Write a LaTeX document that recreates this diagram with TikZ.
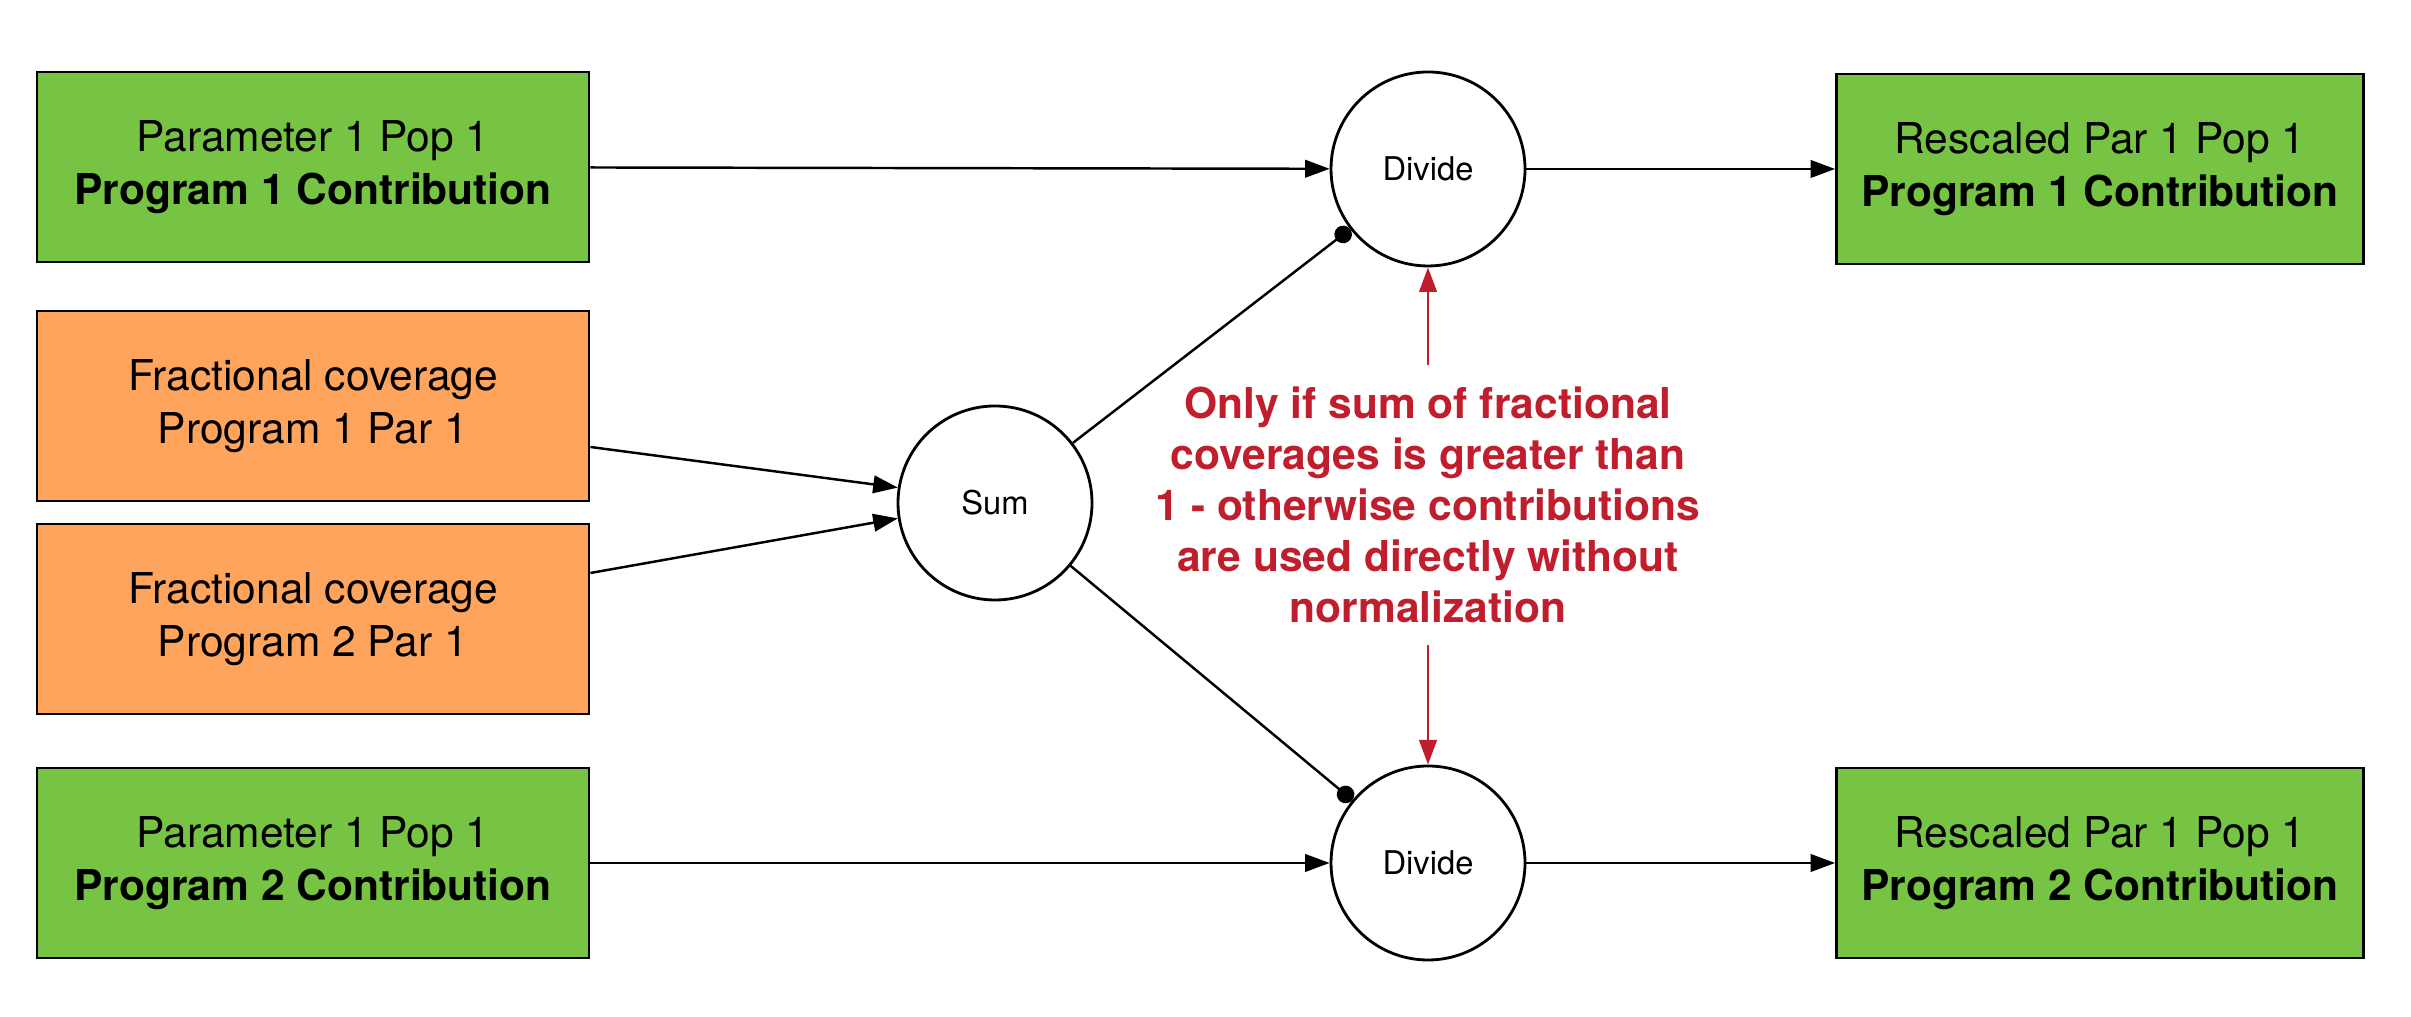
\documentclass[tikz,border=0pt]{standalone}
\usepackage{fontspec}
\setmainfont{TeX Gyre Heros}
\usetikzlibrary{arrows.meta}
\definecolor{boxgreen}{RGB}{119,195,68}
\definecolor{boxorange}{RGB}{254,164,92}
\definecolor{notered}{RGB}{193,30,45}
\begin{document}
\begin{tikzpicture}[
	box/.style={draw, line width=0.8pt, minimum width=5.52cm, minimum height=1.9cm, align=center, font=\fontsize{12.1}{15}\selectfont},
	op/.style={draw, circle, line width=0.8pt, minimum size=1.94cm, inner sep=0pt, font=\fontsize{9.3}{11}\selectfont},
	>={Triangle[length=7pt,width=5pt]}
]
			\useasboundingbox (0,0) rectangle (24.11,10.17);
			\node[box, fill=boxgreen] (P1) at (3.13,8.50) {Parameter 1 Pop 1\\\textbf{Program 1 Contribution}};
			\node[box, fill=boxorange] (F1) at (3.13,6.11) {Fractional coverage\\Program 1 Par 1};
			\node[box, fill=boxorange] (F2) at (3.13,3.98) {Fractional coverage\\Program 2 Par 1};
			\node[box, fill=boxgreen] (P2) at (3.13,1.54) {Parameter 1 Pop 1\\\textbf{Program 2 Contribution}};
			\node[op] (S) at (9.95,5.14) {Sum};
			\node[op] (D1) at (14.28,8.48) {Divide};
			\node[op] (D2) at (14.28,1.54) {Divide};
			\node[box, fill=boxgreen, minimum width=5.27cm] (R1) at (21.0,8.48) {Rescaled Par 1 Pop 1\\\textbf{Program 1 Contribution}};
			\node[box, fill=boxgreen, minimum width=5.27cm] (R2) at (21.0,1.54) {Rescaled Par 1 Pop 1\\\textbf{Program 2 Contribution}};
			\node[text=notered, align=center, inner sep=6pt, font=\bfseries\fontsize{12.1}{14.5}\selectfont] (N) at (14.28,5.12) {Only if sum of fractional\\coverages is greater than\\1 - otherwise contributions\\are used directly without\\normalization};
			\draw[->, line width=0.7pt] (P1)--(D1);
			\draw[->, line width=0.7pt] (P2)--(D2);
			\draw[->, line width=0.7pt] (D1)--(R1);
			\draw[->, line width=0.7pt] (D2)--(R2);
			\draw[->, line width=0.7pt] ([yshift=-0.41cm]F1.east)--(S.171);
			\draw[->, line width=0.7pt] ([yshift=0.46cm]F2.east)--(S.189);
			\draw[-{Circle[length=5pt]}, line width=0.7pt] (S)--(D1);
			\draw[-{Circle[length=5pt]}, line width=0.7pt] (S)--(D2);
			\draw[->, line width=0.7pt, color=notered] (N.north)--(D1.south);
			\draw[->, line width=0.7pt, color=notered] (N.south)--(D2.north);
		\end{tikzpicture}
\end{document}
